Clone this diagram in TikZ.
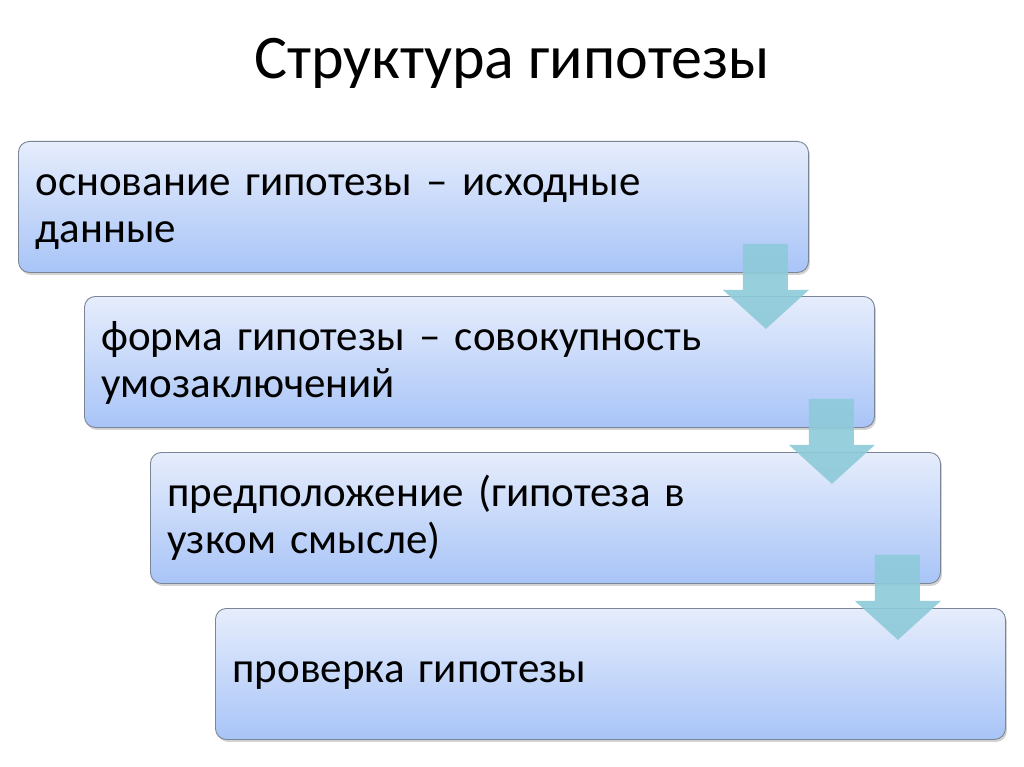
\documentclass[tikz,border=0pt]{standalone}
\usepackage{fontspec}
\setmainfont{Carlito}
\usetikzlibrary{shadows,calc}
\definecolor{boxtop}{HTML}{E6EDFC}
\definecolor{boxbot}{HTML}{A8C4F7}
\definecolor{boxline}{HTML}{7A8696}
\definecolor{arrowc}{HTML}{8DCAD9}
\tikzset{
  stepbox/.style={rectangle, rounded corners=11pt, draw=boxline, line width=0.9pt,
    top color=boxtop, bottom color=boxbot, inner xsep=17pt, inner ysep=0pt,
    text width=756pt, minimum height=131pt, align=left, anchor=north west,
    text height=20pt, text depth=43pt,
    font=\fontsize{43}{47}\selectfont,
    drop shadow={opacity=0.35, shadow xshift=1.5pt, shadow yshift=-2.5pt}},
  oneline/.style={text depth=2pt},
  blockarrow/.style={fill=arrowc, draw=none, fill opacity=0.9},
  titletext/.style={font=\fontsize{62}{70}\selectfont}
}
\begin{document}
\begin{tikzpicture}[x=1pt,y=-1pt]
\useasboundingbox[fill=white] (0,0) rectangle (1024,767);
\node[titletext, anchor=base] (title) at (512,79) {Структура гипотезы};
\node[stepbox] (b1) at (18,141) {основание гипотезы – исходные\\данные};
\node[stepbox] (b2) at (84,296) {форма гипотезы – совокупность\\умозаключений};
\node[stepbox] (b3) at (150,452) {предположение (гипотеза в\\узком смысле)};
\node[stepbox, oneline] (b4) at (215,608) {проверка гипотезы};
\foreach \a in {b1,b2,b3}{
  \begin{scope}[shift={(\a.south east)}]
    \fill[blockarrow] (-66,-29) -- (-21,-29) -- (-21,17) -- (0,17) -- (-43,56) -- (-86,17) -- (-66,17) -- cycle;
  \end{scope}
}
\end{tikzpicture}
\end{document}
